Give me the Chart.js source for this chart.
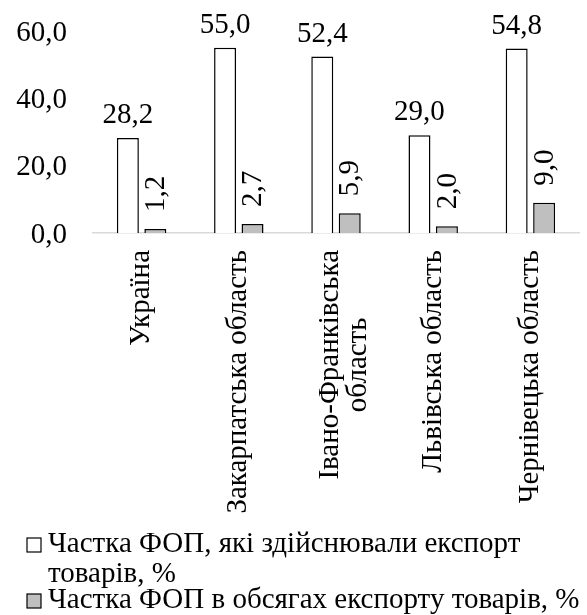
<!DOCTYPE html>
<html>
<head>
<meta charset="utf-8">
<script src="https://cdn.jsdelivr.net/npm/chart.js@4"></script>
<style>
html, body { margin: 0; padding: 0; background: #fff; }
#wrap { width: 587px; height: 615px; }
</style>
</head>
<body>
<div id="wrap"><canvas id="chart"></canvas></div>
<script>
// дані з діаграми
var categories = [['Україна'], ['Закарпатська область'], ['Івано-Франківська', 'область'], ['Львівська область'], ['Чернівецька область']];
var seriesNames = ['Частка ФОП, які здійснювали експорт товарів, %', 'Частка ФОП в обсягах експорту товарів, %'];
var shareExporters = [28.2, 55.0, 52.4, 29.0, 54.8];
var shareExportVolume = [1.2, 2.7, 5.9, 2.0, 9.0];
var yTicks = [0, 20, 40, 60];

var FONT = '"Liberation Serif", "Times New Roman", serif';
var SIZE = 29;
var LEGEND_SIZE = 29;

function fmt(v) {
    return v.toFixed(1).replace('.', ',');
}

// підписи значень над стовпчиками
var valueLabels = {
    id: 'valueLabels',
    afterDatasetsDraw: function (chart) {
        var ctx = chart.ctx;
        ctx.save();
        ctx.fillStyle = '#000';
        ctx.font = SIZE + 'px ' + FONT;
        chart.data.datasets.forEach(function (ds, di) {
            var meta = chart.getDatasetMeta(di);
            meta.data.forEach(function (el, i) {
                var txt = fmt(ds.data[i]);
                if (di === 0) {
                    ctx.textAlign = 'center';
                    ctx.textBaseline = 'alphabetic';
                    ctx.fillText(txt, el.x, el.y - 15);
                } else {
                    ctx.save();
                    ctx.translate(el.x + 1, el.y - 17);
                    ctx.rotate(-Math.PI / 2);
                    ctx.textAlign = 'left';
                    ctx.textBaseline = 'middle';
                    ctx.fillText(txt, 0, 0);
                    ctx.restore();
                }
            });
        });
        ctx.restore();
    }
};

// підписи категорій (вертикальні, по центру)
var categoryLabels = {
    id: 'categoryLabels',
    afterDraw: function (chart) {
        var ctx = chart.ctx;
        var xs = chart.scales.x;
        var top = chart.chartArea.bottom + 17;
        ctx.save();
        ctx.fillStyle = '#000';
        ctx.font = SIZE + 'px ' + FONT;
        categories.forEach(function (lines, i) {
            var x = xs.getPixelForValue(i);
            var w = Math.max.apply(null, lines.map(function (l) { return ctx.measureText(l).width; }));
            var shift = lines.length > 1 ? 8 : 0;
            lines.forEach(function (line, j) {
                var lx = x + (j - (lines.length - 1) / 2) * 28 + shift;
                ctx.save();
                ctx.translate(lx, top + w / 2);
                ctx.rotate(-Math.PI / 2);
                ctx.textAlign = 'center';
                ctx.textBaseline = 'middle';
                ctx.fillText(line, 0, 0);
                ctx.restore();
            });
        });
        ctx.restore();
    }
};

// легенда внизу з переносом рядків
var bottomLegend = {
    id: 'bottomLegend',
    afterDraw: function (chart) {
        var ctx = chart.ctx;
        var fills = ['#ffffff', '#bfbfbf'];
        var x0 = 27, tx = 48, maxW = 550;
        var y = 552;
        ctx.save();
        ctx.font = LEGEND_SIZE + 'px ' + FONT;
        ctx.textBaseline = 'alphabetic';
        ctx.textAlign = 'left';
        seriesNames.forEach(function (name, k) {
            var words = name.split(' ');
            var lines = [], cur = '';
            words.forEach(function (wd) {
                var t = cur ? cur + ' ' + wd : wd;
                if (ctx.measureText(t).width > maxW && cur) {
                    lines.push(cur);
                    cur = wd;
                } else {
                    cur = t;
                }
            });
            lines.push(cur);
            ctx.fillStyle = fills[k];
            ctx.strokeStyle = '#000';
            ctx.lineWidth = 1.2;
            ctx.fillRect(x0, y - 14, 14, 14);
            ctx.strokeRect(x0, y - 14, 14, 14);
            ctx.fillStyle = '#000';
            lines.forEach(function (l, j) {
                ctx.fillText(l, tx, y + j * 30);
            });
            y += (lines.length - 1) * 30 + 26;
        });
        ctx.restore();
    }
};

var ctx = document.getElementById('chart').getContext('2d');
var myChart = new Chart(ctx, {
    type: 'bar',
    data: {
        labels: categories,
        datasets: [{
            label: seriesNames[0],
            data: shareExporters,
            backgroundColor: '#ffffff',
            borderColor: '#000000',
            borderWidth: 1.5,
            categoryPercentage: 0.565,
            barPercentage: 0.8
        }, {
            label: seriesNames[1],
            data: shareExportVolume,
            backgroundColor: '#bfbfbf',
            borderColor: '#000000',
            borderWidth: 1.5,
            categoryPercentage: 0.565,
            barPercentage: 0.8
        }]
    },
    options: {
        responsive: true,
        maintainAspectRatio: false,
        animation: false,
        layout: {
            padding: { top: 31, right: 8, bottom: 382, left: 0 }
        },
        plugins: {
            legend: { display: false },
            tooltip: { enabled: false }
        },
        scales: {
            x: {
                grid: { display: false, drawTicks: false },
                ticks: { display: false },
                border: { display: true, color: '#d9d9d9', width: 1.5 }
            },
            y: {
                min: 0,
                max: 60,
                grid: { display: false, drawTicks: false },
                border: { display: false },
                afterBuildTicks: function (scale) {
                    scale.ticks = yTicks.map(function (v) { return { value: v }; });
                },
                afterFit: function (scale) {
                    scale.width = 93;
                    scale.paddingTop = 0;
                    scale.paddingBottom = 0;
                },
                ticks: {
                    color: '#000',
                    padding: 26,
                    labelOffset: 2,
                    font: { family: FONT, size: SIZE },
                    callback: function (v) { return fmt(v); }
                }
            }
        }
    },
    plugins: [valueLabels, categoryLabels, bottomLegend]
});
</script>
</body>
</html>
